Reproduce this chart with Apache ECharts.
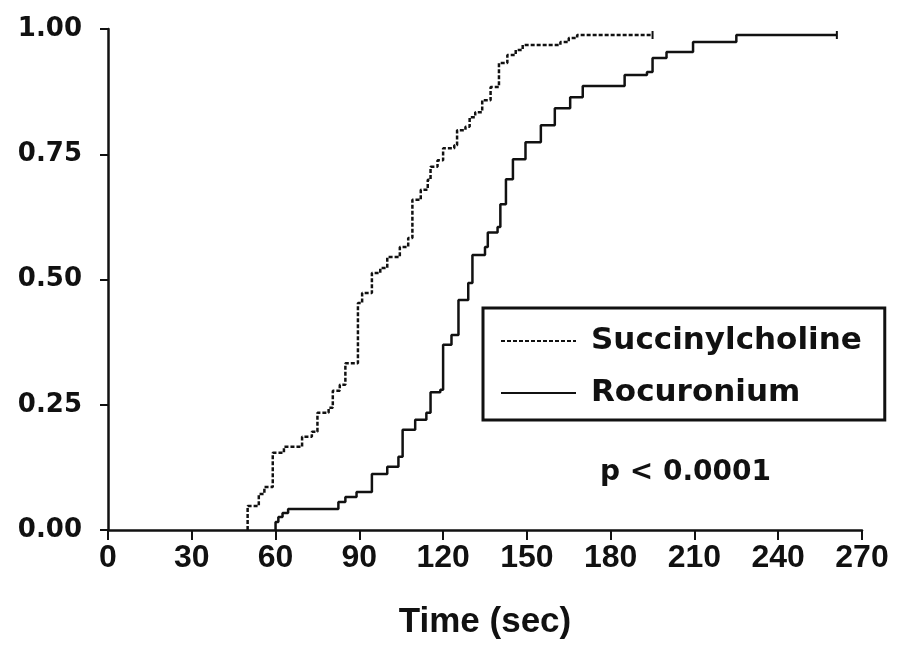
<!DOCTYPE html>
<html>
<head>
<meta charset="utf-8">
<script src="https://cdn.jsdelivr.net/npm/echarts@6/dist/echarts.min.js"></script>
<style>
  html, body { margin: 0; padding: 0; background: #fff; }
  #chart { width: 897px; height: 653px; }
</style>
</head>
<body>
<div id="chart"></div>
<script>
// Kaplan-Meier style cumulative curves: time (sec) vs. cumulative proportion
const succTime = [50, 50, 54, 56, 59, 63, 69.5, 73, 75, 79, 80.5, 83, 85, 89.5, 91, 94.5, 97.5, 100, 104.5, 107.5, 109, 112, 114.5, 115.5, 118, 120, 124, 125, 128, 129.5, 131.5, 134, 137, 140, 143, 146, 148.5, 162, 165, 168, 195];
const succProb = [0, 0.048, 0.072, 0.086, 0.154, 0.166, 0.186, 0.196, 0.234, 0.244, 0.278, 0.29, 0.333, 0.453, 0.473, 0.513, 0.523, 0.545, 0.565, 0.583, 0.659, 0.679, 0.699, 0.725, 0.738, 0.762, 0.768, 0.798, 0.805, 0.824, 0.834, 0.858, 0.884, 0.932, 0.948, 0.958, 0.968, 0.974, 0.982, 0.988, 0.988];

const rocTime = [60, 60, 61, 62.5, 64.5, 82.5, 85, 89, 94.5, 100, 104, 105.5, 110, 114, 115.5, 119, 120, 123, 125.5, 129, 130.5, 135, 136, 139.5, 140.5, 142.5, 145, 149.5, 155, 160, 165.5, 170, 185, 193, 195, 200, 209.5, 225, 261];
const rocProb = [0, 0.016, 0.026, 0.034, 0.042, 0.056, 0.066, 0.076, 0.112, 0.126, 0.146, 0.2, 0.22, 0.234, 0.275, 0.28, 0.37, 0.389, 0.459, 0.493, 0.549, 0.565, 0.594, 0.605, 0.65, 0.70, 0.74, 0.774, 0.808, 0.842, 0.864, 0.886, 0.908, 0.914, 0.942, 0.954, 0.974, 0.988, 0.988];

const xTicks = [0, 30, 60, 90, 120, 150, 180, 210, 240, 270];
const yTicks = [0, 0.25, 0.5, 0.75, 1];

const seriesNames = ['Succinylcholine', 'Rocuronium'];
const pText = 'p < 0.0001';

const INK = '#111';
const WIDE = 'DejaVu Sans';
const NARROW = 'Liberation Sans';

// pair up times and proportions; the last point carries a censoring tick
function toPoints(times, probs) {
  return times.map((t, i) => {
    if (i === times.length - 1) {
      return { value: [t, probs[i]], symbol: 'rect', symbolSize: [2, 8] };
    }
    return [t, probs[i]];
  });
}

const chart = echarts.init(document.getElementById('chart'), null, { renderer: 'canvas' });

chart.setOption({
  backgroundColor: '#fff',
  animation: false,
  grid: { left: 108, right: 35, top: 29, bottom: 123 },
  xAxis: {
    type: 'value',
    min: xTicks[0],
    max: xTicks[xTicks.length - 1],
    interval: 30,
    name: 'Time (sec)',
    nameLocation: 'middle',
    nameGap: 75,
    nameTextStyle: { color: INK, fontFamily: NARROW, fontWeight: 'bold', fontSize: 35 },
    axisLine: { onZero: false, lineStyle: { color: INK, width: 2.5 } },
    axisTick: { show: true, inside: false, length: 10, lineStyle: { color: INK, width: 2 } },
    axisLabel: { color: INK, fontFamily: NARROW, fontWeight: 'bold', fontSize: 32, margin: 12 },
    splitLine: { show: false }
  },
  yAxis: {
    type: 'value',
    min: yTicks[0],
    max: yTicks[yTicks.length - 1],
    interval: 0.25,
    axisLine: { show: true, lineStyle: { color: INK, width: 2.5 } },
    axisTick: { show: true, inside: false, length: 8, lineStyle: { color: INK, width: 2 } },
    axisLabel: {
      color: INK, fontFamily: WIDE, fontWeight: 'bold', fontSize: 26, margin: 26,
      formatter: v => v.toFixed(2)
    },
    splitLine: { show: false }
  },
  legend: {
    data: seriesNames,
    orient: 'vertical',
    left: 483,
    top: 308,
    padding: [16, 23, 10, 17],
    itemGap: 18,
    itemWidth: 75,
    itemHeight: 14,
    // plain line keys: hide the marker drawn on the legend line
    itemStyle: { opacity: 0 },
    borderColor: INK,
    borderWidth: 3,
    borderRadius: 0,
    backgroundColor: '#fff',
    selectedMode: false,
    textStyle: {
      color: INK, fontFamily: WIDE, fontWeight: 'bold', fontSize: 31,
      lineHeight: 34, padding: [0, 0, 0, 10]
    }
  },
  graphic: [{
    type: 'text',
    left: 600,
    top: 459,
    style: {
      text: pText,
      fill: INK,
      font: 'bold 28px "DejaVu Sans"'
    }
  }],
  series: [
    {
      name: seriesNames[0],
      type: 'line',
      step: 'end',
      symbol: 'none',
      showSymbol: true,
      itemStyle: { color: INK },
      lineStyle: { color: INK, width: 2.5, type: [4, 2] },
      data: toPoints(succTime, succProb),
      z: 3
    },
    {
      name: seriesNames[1],
      type: 'line',
      step: 'end',
      symbol: 'none',
      showSymbol: true,
      itemStyle: { color: INK },
      lineStyle: { color: INK, width: 2.5, type: 'solid' },
      data: toPoints(rocTime, rocProb),
      z: 2
    }
  ]
});
</script>
</body>
</html>
